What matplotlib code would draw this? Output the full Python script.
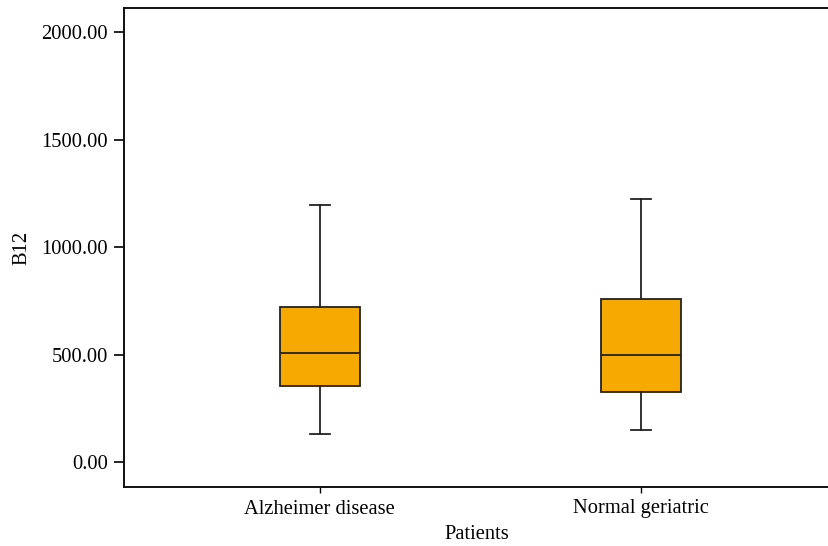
import matplotlib
matplotlib.use("Agg")
import matplotlib.pyplot as plt

plt.rcParams['font.family'] = ['Liberation Serif', 'DejaVu Serif']

# ---------------- data ----------------
groups = ["Alzheimer disease", "Normal geriatric"]
whisk_lo = [132, 150]
q1 = [355, 324]
median = [508, 499]
q3 = [719, 760]
whisk_hi = [1197, 1222]

stats = []
for i in range(len(groups)):
    stats.append({"label": groups[i], "whislo": whisk_lo[i], "q1": q1[i],
                  "med": median[i], "q3": q3[i], "whishi": whisk_hi[i],
                  "fliers": []})

fig = plt.figure(figsize=(8.29, 5.46), dpi=100)
ax = fig.add_axes([124/829, 59/546, 705/829, 479/546])

ax.bxp(stats, positions=[0, 1], widths=0.25, patch_artist=True,
       showfliers=False,
       boxprops=dict(facecolor="#f6aa00", edgecolor="#222222", linewidth=1.3),
       medianprops=dict(color="#222222", linewidth=1.3),
       whiskerprops=dict(color="#222222", linewidth=1.3),
       capprops=dict(color="#222222", linewidth=1.3),
       capwidths=0.063)

ax.set_xlim(-0.61, 1.586)
ax.set_ylim(-116, 2112)
ax.set_yticks([0, 500, 1000, 1500, 2000])
ax.set_yticklabels(["%.2f" % v for v in [0, 500, 1000, 1500, 2000]])
ax.set_xticks([0, 1])
ax.set_xticklabels(groups)

ax.spines["right"].set_visible(False)
for s in ["left", "top", "bottom"]:
    ax.spines[s].set_linewidth(1.4)
    ax.spines[s].set_color("#111111")

ax.tick_params(axis="y", length=7.5, width=1.2, labelsize=14.8, pad=4)
ax.tick_params(axis="x", length=4, width=1.0, labelsize=14.8, pad=5)

ax.set_xlabel("Patients", fontsize=14.8, labelpad=5)
ax.set_ylabel("B12", fontsize=14.8, labelpad=7)

fig.savefig("out.png", dpi=100)
